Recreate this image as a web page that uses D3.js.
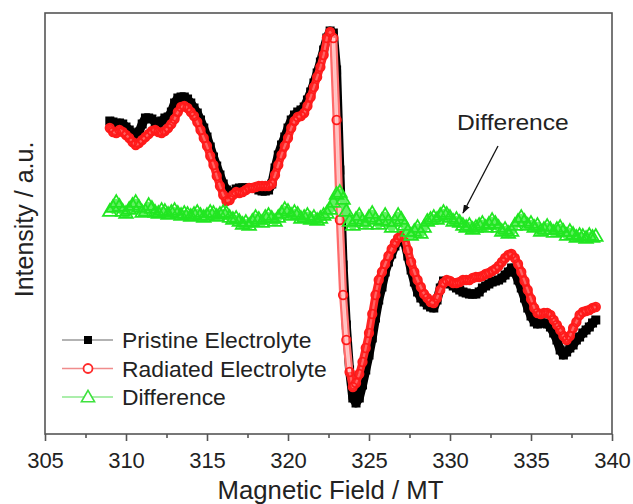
<!DOCTYPE html>
<html>
<head>
<meta charset="utf-8">
<script src="https://cdn.jsdelivr.net/npm/d3@7"></script>
<style>
  html, body { margin: 0; padding: 0; background: #fff; }
  svg { display: block; font-family: "Liberation Sans", Arial, sans-serif; }
</style>
</head>
<body>
<svg id="chart" width="633" height="504"></svg>
<script>
// EPR spectra sampled every 0.2 mT from 309.0 to 339.0 (151 points), intensity in arbitrary units
const fieldStart = 309.0;
const fieldStep = 0.2;

const pristine = [
  279,278,276,277,276,273,270,267,264,268,276,282,282,281,278,276,279,282,283,288,
  297,302,303,303,301,297,292,287,280,272,263,253,243,234,225,216,210,207,208,211,
  212,212,212,212,212,212,210,209,209,210,216,232,245,255,263,272,280,285,288,290,
  293,300,308,317,327,338,350,362,369,367,330,230,135,75,30,2,-3,2,15,30,
  45,62,82,100,113,128,138,146,154,160,164,158,144,130,118,108,102,98,95,93,
  92,100,112,119,118,116,114,112,110,108,107,106,106,106,108,112,114,116,118,119,
  120,122,125,128,132,128,120,112,102,92,84,78,76,77,77,76,73,67,60,50,
  45,48,52,55,60,63,67,70,73,77,80
];

const radiated = [
  272,268,267,270,268,265,262,258,255,257,260,263,266,269,270,268,267,269,272,276,
  281,288,293,294,292,288,284,278,270,262,254,244,235,224,214,205,199,200,205,208,
  207,208,210,212,212,213,214,214,214,214,216,225,235,245,254,262,272,279,283,284,
  287,294,303,313,323,333,345,362,368,362,280,180,105,60,28,13,17,26,38,52,
  67,86,105,120,128,136,144,151,157,162,164,163,150,138,128,120,113,106,102,98,
  97,102,110,117,120,119,117,117,118,120,120,120,122,123,123,124,126,127,129,131,
  134,138,142,145,146,142,136,128,119,110,101,92,87,86,87,87,85,80,75,70,
  64,60,64,72,78,85,88,89,90,92,93
];

const difference = [
  188,192,197,193,188,186,190,194,197,192,187,188,194,191,187,186,189,188,185,187,
  189,186,184,186,185,183,185,187,184,182,184,187,186,183,185,187,186,182,180,181,
  178,175,177,174,178,182,180,177,182,184,181,178,182,186,190,188,184,187,185,181,
  182,184,180,182,179,181,184,186,190,197,205,207,200,188,178,174,180,184,178,175,
  182,186,180,175,179,184,178,172,178,184,180,174,168,164,168,172,166,172,178,180,
  182,180,184,187,185,182,178,180,177,174,172,174,170,172,174,176,172,175,179,176,
  172,168,170,166,168,174,178,182,178,174,176,172,174,168,170,173,170,167,170,172,
  168,164,168,165,162,164,163,161,164,162,163
];

const xTicks = [305, 310, 315, 320, 325, 330, 335, 340];
const xMinorTicks = [307.5, 312.5, 317.5, 322.5, 327.5, 332.5, 337.5];
const seriesNames = ["Pristine Electrolyte", "Radiated Electrolyte", "Difference"];
const xTitle = "Magnetic Field / MT";
const yTitle = "Intensity / a.u.";
const annotation = "Difference";

const field = pristine.map((_, i) => +(fieldStart + i * fieldStep).toFixed(1));

const W = 633, H = 504;
const margin = { top: 13, right: 21, bottom: 70, left: 45 };
const svg = d3.select("#chart");

const x = d3.scaleLinear().domain([305, 340]).range([margin.left, W - margin.right]);
const y = d3.scaleLinear().domain([-34, 387]).range([H - margin.bottom, margin.top]);

const line = d3.line().x((d) => x(d[0])).y((d) => y(d[1]));
const toPts = (arr) => arr.map((v, i) => [field[i], v]);

const plot = svg.append("g");

// Pristine: solid squares joined by a heavy black line
const pPts = toPts(pristine);
plot.append("path").attr("d", line(pPts)).attr("fill", "none")
  .attr("stroke", "#000").attr("stroke-width", 9).attr("stroke-linejoin", "round");
plot.append("g").selectAll("rect").data(pPts).join("rect")
  .attr("x", (d) => x(d[0]) - 4.5).attr("y", (d) => y(d[1]) - 4.5)
  .attr("width", 9).attr("height", 9).attr("fill", "#000");

// Radiated: open circles packed into a red band; on the steep flank the
// circles spread out, so those segments read lighter (pink)
const rPts = toPts(radiated);
const rSegs = d3.pairs(rPts);
const isSteep = (s) => Math.abs(y(s[0][1]) - y(s[1][1])) > 20;
plot.append("g").selectAll("path").data(rSegs).join("path")
  .attr("d", (s) => line(s)).attr("fill", "none")
  .attr("stroke", (s) => isSteep(s) ? "#ff6a6a" : "#ff2424")
  .attr("stroke-width", 8).attr("stroke-linecap", "round");
plot.append("g").selectAll("path").data(rSegs.filter(isSteep)).join("path")
  .attr("d", (s) => line(s)).attr("fill", "none")
  .attr("stroke", "#ffd0d0").attr("stroke-width", 3.5).attr("stroke-linecap", "butt");
plot.append("path").attr("d", line(rPts)).attr("fill", "none")
  .attr("stroke", "#ffb4b4").attr("stroke-width", 2.2).attr("stroke-opacity", 0.45)
  .attr("stroke-linejoin", "round");
plot.append("g").selectAll("circle").data(rPts).join("circle")
  .attr("cx", (d) => x(d[0])).attr("cy", (d) => y(d[1])).attr("r", 4.3)
  .attr("fill", "none").attr("stroke", "#ff1a1a").attr("stroke-width", 1.7);

// Difference: open triangles packed into a green band
const dPts = toPts(difference);
const tri = d3.symbol().type(d3.symbolTriangle).size(80);
plot.append("path").attr("d", line(dPts)).attr("fill", "none")
  .attr("stroke", "#62f062").attr("stroke-width", 8).attr("stroke-linejoin", "round");
plot.append("g").selectAll("path").data(dPts).join("path")
  .attr("d", tri)
  .attr("transform", (d) => `translate(${x(d[0])},${y(d[1])})`)
  .attr("fill", "none").attr("stroke", "#22e622").attr("stroke-width", 1.8);

// Frame
svg.append("rect")
  .attr("x", margin.left).attr("y", margin.top)
  .attr("width", W - margin.left - margin.right)
  .attr("height", H - margin.top - margin.bottom)
  .attr("fill", "none").attr("stroke", "#555").attr("stroke-width", 1.6);

// Bottom axis with major and minor ticks
const xAxis = svg.append("g").attr("transform", `translate(0,${H - margin.bottom})`)
  .call(d3.axisBottom(x).tickValues(xTicks).tickSize(7).tickPadding(11).tickFormat(d3.format("d")));
xAxis.select(".domain").remove();
xAxis.selectAll(".tick line").attr("stroke", "#555").attr("stroke-width", 1.6);
xAxis.selectAll(".tick text").attr("font-size", 22).attr("fill", "#222")
  .attr("font-family", "Liberation Sans, Arial, sans-serif");

const xMinor = svg.append("g").attr("transform", `translate(0,${H - margin.bottom})`)
  .call(d3.axisBottom(x).tickValues(xMinorTicks).tickSize(4).tickFormat(""));
xMinor.select(".domain").remove();
xMinor.selectAll(".tick line").attr("stroke", "#555").attr("stroke-width", 1.6);

// Axis titles
svg.append("text").attr("transform", `translate(${(margin.left + W - margin.right) / 2 + 2},499) scale(1.03,1)`)
  .attr("text-anchor", "middle").attr("font-size", 25).attr("fill", "#222").text(xTitle);
svg.append("text").attr("transform", `translate(33,${(margin.top + H - margin.bottom) / 2 - 4}) rotate(-90)`)
  .attr("text-anchor", "middle").attr("font-size", 25).attr("fill", "#222").text(yTitle);

// Legend
const legend = svg.append("g");
const legendRows = [
  { name: seriesNames[0], line: "#9a9a9a", mark: "square" },
  { name: seriesNames[1], line: "#f08c8c", mark: "circle" },
  { name: seriesNames[2], line: "#8fe88f", mark: "triangle" }
];
legendRows.forEach((row, i) => {
  const cy = 340 + i * 28.5;
  const g = legend.append("g");
  g.append("line").attr("x1", 62).attr("x2", 113).attr("y1", cy).attr("y2", cy)
    .attr("stroke", row.line).attr("stroke-width", 1.3);
  if (row.mark === "square") {
    g.append("rect").attr("x", 84).attr("y", cy - 4).attr("width", 8).attr("height", 8).attr("fill", "#000");
  } else if (row.mark === "circle") {
    g.append("circle").attr("cx", 88).attr("cy", cy).attr("r", 4.5)
      .attr("fill", "#fff").attr("stroke", "#ff2a2a").attr("stroke-width", 1.8);
  } else {
    g.append("path").attr("d", d3.symbol().type(d3.symbolTriangle).size(75))
      .attr("transform", `translate(88,${cy + 1})`)
      .attr("fill", "#fff").attr("stroke", "#3ee23e").attr("stroke-width", 1.6);
  }
  g.append("text").attr("transform", `translate(122,${cy + 8}) scale(1.04,1)`)
    .attr("font-size", 22).attr("fill", "#222").text(row.name);
});

// Annotation with arrow pointing at the difference trace
const defs = svg.append("defs");
defs.append("marker").attr("id", "arrowhead").attr("viewBox", "0 0 10 10")
  .attr("refX", 9).attr("refY", 5).attr("markerWidth", 7).attr("markerHeight", 7)
  .attr("orient", "auto")
  .append("path").attr("d", "M0,1.5 L10,5 L0,8.5 Z").attr("fill", "#111");

svg.append("text").attr("transform", "translate(457,130) scale(1.12,1)")
  .attr("font-size", 22).attr("fill", "#222").text(annotation);
svg.append("line").attr("x1", 498).attr("y1", 146).attr("x2", 463).attr("y2", 213)
  .attr("stroke", "#111").attr("stroke-width", 1.3).attr("marker-end", "url(#arrowhead)");
</script>
</body>
</html>
